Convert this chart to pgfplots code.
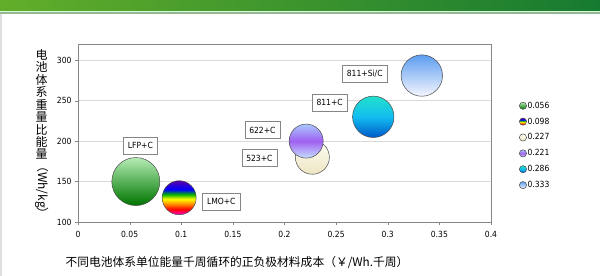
\documentclass[border=0pt]{standalone}
\usepackage{pgfplots}
\pgfplotsset{compat=1.18}
\usepackage{fontspec}
\setmainfont{DejaVu Sans Condensed}
\newfontfamily\cjk{Noto Sans CJK SC}

\definecolor{bannerL}{HTML}{62AE2A}
\definecolor{bannerR}{HTML}{167A30}
\definecolor{axisgray}{HTML}{868686}
\definecolor{gridgray}{HTML}{D9D9D9}
\definecolor{edge}{HTML}{4A4A4A}

\pgfdeclareverticalshading{shLFP}{100bp}{color(0bp)=(green!45!black); color(25bp)=(green!45!black); color(40bp)=(green!50!black!80!white); color(75bp)=(green!25!white!85!gray); color(100bp)=(green!25!white!85!gray)}
\pgfdeclareverticalshading{shLMO}{100bp}{color(0bp)=(magenta!80!red); color(25bp)=(magenta!80!red); color(33bp)=(red); color(40bp)=(orange); color(48bp)=(yellow); color(55bp)=(green!70!black); color(62bp)=(blue); color(75bp)=(violet!70!blue); color(100bp)=(violet!70!blue)}
\definecolor{c523t}{HTML}{FFFFF6}
\definecolor{c523b}{HTML}{EDE5C2}
\pgfdeclareverticalshading{sh523}{100bp}{color(0bp)=(c523b); color(25bp)=(c523b); color(75bp)=(c523t); color(100bp)=(c523t)}
\definecolor{c622t}{HTML}{A8C8FF}
\definecolor{c622m}{HTML}{A060F0}
\definecolor{c622b}{HTML}{C4E0FF}
\pgfdeclareverticalshading{sh622}{100bp}{color(0bp)=(c622b); color(25bp)=(c622b); color(50bp)=(c622m); color(75bp)=(c622t); color(100bp)=(c622t)}
\definecolor{c811t}{HTML}{22E0CC}
\definecolor{c811m}{HTML}{12BDF0}
\definecolor{c811b}{HTML}{0058C8}
\pgfdeclareverticalshading{sh811}{100bp}{color(0bp)=(c811b); color(25bp)=(c811b); color(50bp)=(c811m); color(75bp)=(c811t); color(100bp)=(c811t)}
\definecolor{cSit}{HTML}{5C9DF0}
\definecolor{cSib}{HTML}{F6F6FF}
\pgfdeclareverticalshading{shSi}{100bp}{color(0bp)=(cSib); color(25bp)=(cSib); color(75bp)=(cSit); color(100bp)=(cSit)}

\newcommand\shadedmark[2]{%
  \pgfdeclareplotmark{#1}{%
    \pgfscope\pgfpathcircle{\pgfpointorigin}{\pgfplotmarksize}\pgfshadepath{#2}{0}\endpgfscope
    \pgfpathcircle{\pgfpointorigin}{\pgfplotmarksize}\pgfusepathqstroke}}
\shadedmark{mLFP}{shLFP}
\shadedmark{mLMO}{shLMO}
\shadedmark{m523}{sh523}
\shadedmark{m622}{sh622}
\shadedmark{m811}{sh811}
\shadedmark{mSi}{shSi}

\tikzset{lbl/.style={draw=axisgray, fill=white, font=\fontsize{8.5}{10}\selectfont, minimum height=17bp, inner xsep=4.5bp, inner ysep=2bp}}

\begin{document}
\begin{tikzpicture}
\useasboundingbox (0bp,0bp) rectangle (600bp,276bp);
\fill[white] (0bp,0bp) rectangle (600bp,276bp);
\shade[left color=bannerL, right color=bannerR] (0bp,265bp) rectangle (600bp,276bp);
\fill[green!15!white] (0bp,263.5bp) rectangle (600bp,265bp);
\fill[green!20!gray!70!white] (0bp,262bp) rectangle (600bp,263.5bp);
\fill[gray!25] (0bp,0bp) rectangle (1.5bp,262bp);
\begin{axis}[
  at={(78bp,54bp)}, anchor=south west,
  scale only axis, width=413bp, height=178bp,
  xmin=0, xmax=0.4, ymin=100, ymax=320,
  xtick={0,0.05,0.1,0.15,0.2,0.25,0.3,0.35,0.4},
  ytick={100,150,200,250,300},
  xticklabels={0,0.05,0.1,0.15,0.2,0.25,0.3,0.35,0.4},
  tick label style={font=\fontsize{8.5}{10}\selectfont, text=black},
  /pgf/number format/assume math mode=true,
  xticklabel style={yshift=-3bp},
  axis line style={axisgray},
  tick style={axisgray},
  tick align=outside, major tick length=3bp,
  xtick pos=bottom, ytick pos=left,
  ymajorgrids, grid style={gridgray},
  xlabel={不同电池体系单位能量千周循环的正负极材料成本（￥/Wh.千周）},
  xlabel style={font=\cjk\fontsize{11.8}{14}\selectfont, at={(axis description cs:0.385,-0.225)}, anchor=center},
  ylabel={电\\池\\体\\系\\重\\量\\比\\能\\量},
  ylabel style={rotate=-90, align=center, font=\cjk\fontsize{12}{12.5}\selectfont, at={(axis description cs:-0.088,0.99)}, anchor=north},
  legend style={at={(axis description cs:1.061,0.693)}, anchor=north west, draw=none, fill=none,
    font=\fontsize{8.5}{10}\selectfont, row sep=6.1bp, nodes={inner xsep=1bp, inner ysep=1bp}},
  legend cell align=left,
  legend image code/.code={\draw[#1, mark size=3.6bp] plot coordinates {(0bp,0bp)};},
  clip=false,
]
\addplot[only marks, mark=mLFP, mark size=24bp, draw=edge, line width=0.5pt] coordinates {(0.056,150)};
\addlegendentry{0.056}
\addplot[only marks, mark=mLMO, mark size=17bp, draw=edge, line width=0.5pt] coordinates {(0.098,130)};
\addlegendentry{0.098}
\addplot[only marks, mark=m523, mark size=17bp, draw=edge, line width=0.5pt] coordinates {(0.227,180)};
\addlegendentry{0.227}
\addplot[only marks, mark=m622, mark size=17bp, draw=edge, line width=0.5pt] coordinates {(0.221,200)};
\addlegendentry{0.221}
\addplot[only marks, mark=m811, mark size=20.7bp, draw=edge, line width=0.5pt] coordinates {(0.286,230)};
\addlegendentry{0.286}
\addplot[only marks, mark=mSi, mark size=20.7bp, draw=edge, line width=0.5pt] coordinates {(0.333,281)};
\addlegendentry{0.333}
\node[lbl] at (axis cs:0.0604,194.4) {LFP+C};
\node[lbl] at (axis cs:0.1388,125) {LMO+C};
\node[lbl] at (axis cs:0.1757,179) {523+C};
\node[lbl] at (axis cs:0.1786,213.75) {622+C};
\node[lbl] at (axis cs:0.2437,247.5) {811+C};
\node[lbl] at (axis cs:0.2777,283.75) {811+Si/C};
\node[rotate=-90, anchor=west, inner sep=0pt, font=\cjk\fontsize{12}{12.5}\selectfont] at (axis description cs:-0.088,0.348) {（Wh/kg）};
\end{axis}
\end{tikzpicture}
\end{document}
